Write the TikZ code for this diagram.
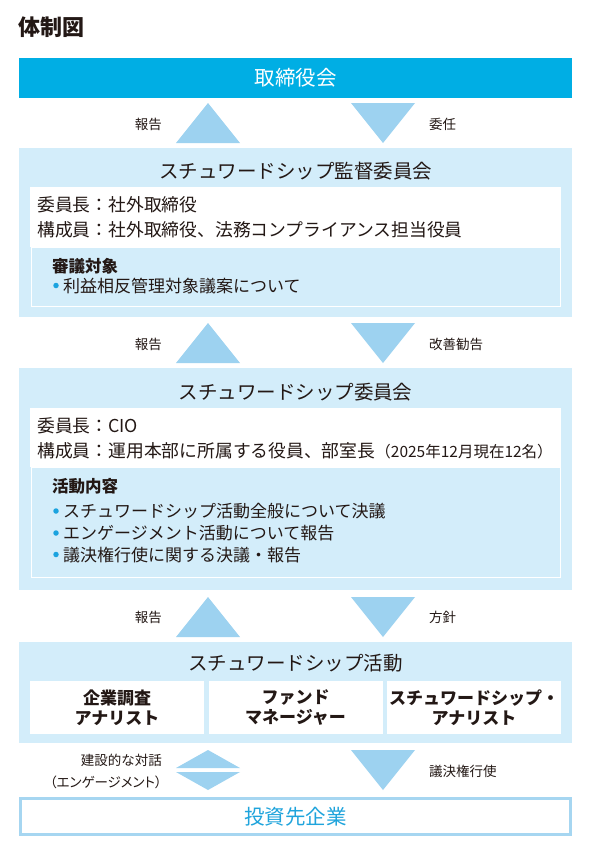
\documentclass[tikz,border=0pt]{standalone}
\usepackage{fontspec}
\setmainfont{Noto Sans CJK JP}
\definecolor{boardblue}{HTML}{00AEE4}
\definecolor{panel}{HTML}{D3EDFA}
\definecolor{tricol}{HTML}{9DD2F0}
\definecolor{dotcol}{HTML}{1AA3DF}
\definecolor{ink}{HTML}{231815}
\definecolor{framecol}{HTML}{A6D6F1}
\definecolor{cyantext}{HTML}{1FA4DC}
\newcommand{\fs}[1]{\fontsize{#1}{#1}\selectfont}
\newcommand{\cjkstrut}{\rule[-0.12em]{0pt}{1em}}
\tikzset{
  txt/.style={inner sep=0pt, text=ink, execute at begin node=\cjkstrut},
  panelbox/.style={fill=panel, draw=none, inner sep=0pt},
  whitebox/.style={fill=white, draw=none, inner sep=0pt},
  innerbox/.style={fill=panel, draw=white, line width=0.8pt, inner sep=0pt},
  uptri/.style={fill=tricol},
  bulletdot/.style={circle, fill=dotcol, inner sep=0pt, minimum size=5.5pt},
  arrlabel/.style={txt, font=\fs{13.5}},
  ltitle/.style={txt, font=\fs{19.5}},
  wline/.style={txt, font=\fs{17.8}, anchor=west},
  subhead/.style={txt, font=\bfseries\fs{16.5}, anchor=west},
  bline/.style={txt, font=\fs{17}, anchor=west},
  rolebox/.style={fill=white, inner sep=0pt, minimum width=174pt, minimum height=53pt, align=center, font=\bfseries\fontsize{17}{20}\selectfont, text=ink},
}
\begin{document}
\begin{tikzpicture}[x=1pt,y=-1pt]
\useasboundingbox (0,0) rectangle (594,860);
\fill[white] (0,0) rectangle (594,860);

% title
\node[txt, font=\bfseries\fs{22}, anchor=west] (title) at (18,27.5) {体制図};

% board
\node[fill=boardblue, inner sep=0pt, minimum width=553pt, minimum height=39.5pt] (board) at (295.5,78) {};
\node[txt, font=\fs{20.5}, text=white] (boardt) at (board.center) {取締役会};

% gap 1
\fill[uptri] (176,143) -- (208,103) -- (240,143) -- cycle;
\fill[uptri] (351,103) -- (415,103) -- (383,143) -- cycle;
\node[arrlabel, anchor=east] (l1a) at (162,124) {報告};
\node[arrlabel, anchor=west] (l1b) at (429,124) {委任};

% supervisory committee
\node[panelbox, minimum width=553pt, minimum height=169pt] (sup) at (295.5,232.5) {};
\node[ltitle] (supt) at (295.5,171.5) {スチュワードシップ監督委員会};
\node[whitebox, minimum width=531pt, minimum height=60pt] (supw) at (295.5,217) {};
\node[wline] (supw1) at (37,205) {委員長：社外取締役};
\node[wline] (supw2) at (37,230) {構成員：社外取締役、法務コンプライアンス担当役員};
\node[innerbox, minimum width=529pt, minimum height=59.5pt] (supi) at (295.5,277) {};
\node[subhead] (suph) at (52,266) {審議対象};
\node[bulletdot] (supd1) at (56,285.5) {};
\node[bline] (supb1) at (63,286) {利益相反管理対象議案について};

% gap 2
\fill[uptri] (176,363) -- (208,323) -- (240,363) -- cycle;
\fill[uptri] (351,323) -- (415,323) -- (383,363) -- cycle;
\node[arrlabel, anchor=east] (l2a) at (162,344) {報告};
\node[arrlabel, anchor=west] (l2b) at (429,344) {改善勧告};

% stewardship committee
\node[panelbox, minimum width=553pt, minimum height=222pt] (sc) at (295.5,479) {};
\node[ltitle] (sct) at (295.5,392) {スチュワードシップ委員会};
\node[whitebox, minimum width=531pt, minimum height=59pt] (scw) at (295.5,437.5) {};
\node[wline] (scw1) at (37,426) {委員長：CIO};
\node[wline] (scw2) at (37,451) {構成員：運用本部に所属する役員、部室長{\fs{15.5}（2025年12月現在12名）}};
\node[innerbox, minimum width=529pt, minimum height=110pt] (sci) at (295.5,522) {};
\node[subhead] (sch) at (52,486) {活動内容};
\node[bulletdot] (scd1) at (56,511) {};
\node[bline] (scb1) at (63,511.5) {スチュワードシップ活動全般について決議};
\node[bulletdot] (scd2) at (56,533) {};
\node[bline] (scb2) at (63,533.5) {エンゲージメント活動について報告};
\node[bulletdot] (scd3) at (56,554.5) {};
\node[bline] (scb3) at (63,555) {議決権行使に関する決議・報告};

% gap 3
\fill[uptri] (176,637) -- (208,597) -- (240,637) -- cycle;
\fill[uptri] (351,597) -- (415,597) -- (383,637) -- cycle;
\node[arrlabel, anchor=east] (l3a) at (162,617) {報告};
\node[arrlabel, anchor=west] (l3b) at (429,617) {方針};

% stewardship activities
\node[panelbox, minimum width=553pt, minimum height=101pt] (sa) at (295.5,692.5) {};
\node[ltitle] (sat) at (295.5,663) {スチュワードシップ活動};
\node[rolebox] (r1) at (117,707.5) {企業調査\\アナリスト};
\node[rolebox] (r2) at (295.5,707.5) {ファンド\\マネージャー};
\node[rolebox] (r3) at (474,707.5) {スチュワードシップ・\\アナリスト};

% gap 4
\fill[uptri] (176,768) -- (208,750) -- (240,768) -- cycle;
\fill[uptri] (176,772) -- (208,790) -- (240,772) -- cycle;
\fill[uptri] (351,750) -- (415,750) -- (383,790) -- cycle;
\node[arrlabel, anchor=east] (l4a) at (162,760) {建設的な対話};
\node[arrlabel, anchor=east, font=\fs{13.5}\addfontfeature{RawFeature=+palt}] (l4b) at (162,782) {（エンゲージメント）};
\node[arrlabel, anchor=west] (l4c) at (429,771) {議決権行使};

% investee companies
\node[draw=framecol, line width=3pt, fill=white, inner sep=0pt, minimum width=550pt, minimum height=36pt] (inv) at (295.5,816.5) {};
\node[txt, font=\fs{20.5}, text=cyantext] (invt) at (inv.center) {投資先企業};
\end{tikzpicture}
\end{document}
